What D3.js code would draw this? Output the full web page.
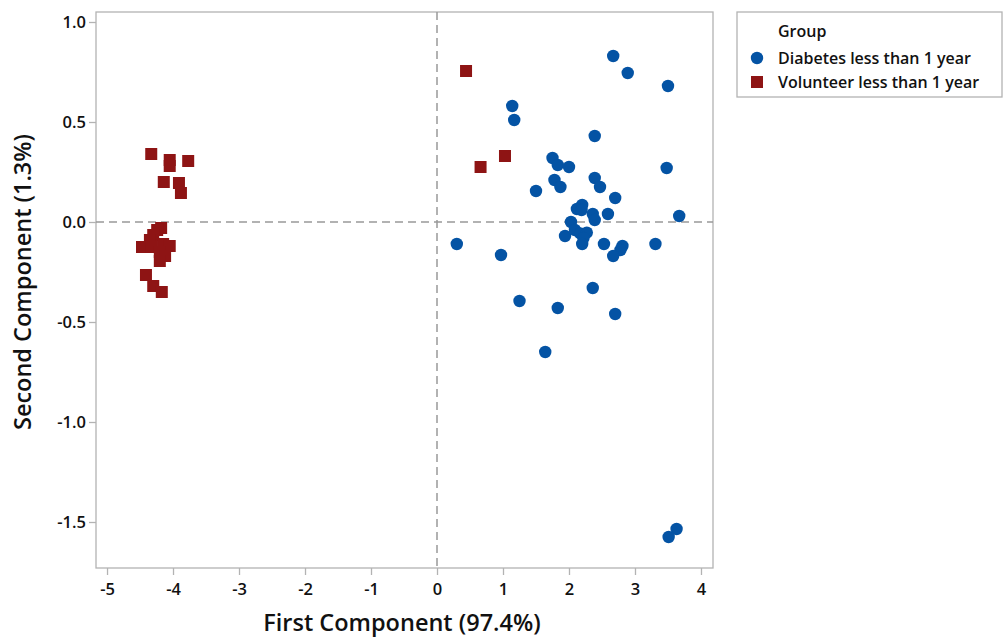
<!DOCTYPE html>
<html><head><meta charset="utf-8">
<script src="https://cdn.jsdelivr.net/npm/d3@7"></script>
<style>body{margin:0;background:#fff}svg{display:block}</style>
</head><body>
<script>
const xTicks = [-5,-4,-3,-2,-1,0,1,2,3,4];
const yTicks = [1.0,0.5,0.0,-0.5,-1.0,-1.5];
const groups = ["Diabetes less than 1 year","Volunteer less than 1 year"];
const diabetesX = [2.67,2.89,3.50,1.14,1.17,2.39,1.75,1.83,2.00,3.48,1.78,1.87,2.39,2.47,1.50,2.70,2.20,2.12,2.19,2.36,2.39,2.59,3.67,2.03,
  0.30,0.97,1.94,2.09,2.17,2.27,2.22,2.20,2.53,2.81,2.78,2.67,3.31,2.36,1.25,1.83,2.70,1.64,3.63,3.51];
const diabetesY = [0.83,0.745,0.68,0.58,0.51,0.43,0.32,0.285,0.275,0.27,0.21,0.175,0.22,0.175,0.155,0.12,0.085,0.065,0.06,0.04,0.01,0.04,0.03,0.0,
  -0.11,-0.165,-0.07,-0.04,-0.057,-0.053,-0.08,-0.11,-0.11,-0.12,-0.14,-0.17,-0.11,-0.33,-0.395,-0.43,-0.46,-0.65,-1.535,-1.575];
const volunteerX = [-4.33,-4.05,-4.05,-3.77,-4.14,-3.91,-3.88,-4.18,-4.24,-4.30,-4.35,-4.47,-4.32,-4.15,-4.05,-4.20,-4.12,-4.20,-4.41,-4.30,-4.17,0.44,0.66,1.03];
const volunteerY = [0.34,0.31,0.28,0.305,0.20,0.195,0.145,-0.03,-0.04,-0.065,-0.09,-0.125,-0.125,-0.11,-0.12,-0.15,-0.17,-0.195,-0.265,-0.32,-0.35,0.755,0.275,0.33];

const W=1003,H=639;
const L=96,R=713,T=12,B=568;
const svg=d3.select("body").append("svg").attr("width",W).attr("height",H);
const font="'Open Sans', 'Noto Sans', sans-serif";
const x=d3.scaleLinear().domain([-5.167,4.182]).range([L,R]);
const y=d3.scaleLinear().domain([-1.73,1.05]).range([B,T]);
const gray="#b3b3b3";
const hy=s=>s.replace("\u2212","-");

// frame
svg.append("rect").attr("x",L).attr("y",T).attr("width",R-L).attr("height",B-T)
  .attr("fill","none").attr("stroke",gray).attr("stroke-width",1.3);

// axes
const gx=svg.append("g").attr("transform",`translate(0,${B})`)
  .call(d3.axisBottom(x).tickValues(xTicks).tickFormat(d=>hy(d3.format("d")(d))).tickSize(7).tickSizeOuter(0));
const gy=svg.append("g").attr("transform",`translate(${L},0)`)
  .call(d3.axisLeft(y).tickValues(yTicks).tickFormat(d=>hy(d3.format(".1f")(d))).tickSize(7).tickSizeOuter(0));
[gx,gy].forEach(g=>{
  g.select(".domain").remove();
  g.selectAll(".tick line").attr("stroke",gray).attr("stroke-width",1.3);
  g.selectAll(".tick text").attr("fill","#111").attr("font-family",font).attr("font-size",16.5).attr("font-weight",600);
});
gx.selectAll(".tick text").attr("dy","1.0em");
gy.selectAll(".tick text").attr("x",-10);

// reference lines
svg.append("line").attr("x1",x(0)).attr("x2",x(0)).attr("y1",T).attr("y2",B)
  .attr("stroke","#999").attr("stroke-width",1.5).attr("stroke-dasharray","8,5");
svg.append("line").attr("x1",L).attr("x2",R).attr("y1",y(0)).attr("y2",y(0))
  .attr("stroke","#999").attr("stroke-width",1.5).attr("stroke-dasharray","8,5");

const blue="#0453a4", red="#8e1414";
const dData=diabetesX.map((v,i)=>({x:v,y:diabetesY[i]}));
const vData=volunteerX.map((v,i)=>({x:v,y:volunteerY[i]}));
svg.append("g").selectAll("circle").data(dData).join("circle")
  .attr("cx",d=>x(d.x)).attr("cy",d=>y(d.y)).attr("r",6.2).attr("fill",blue);
svg.append("g").selectAll("rect").data(vData).join("rect")
  .attr("x",d=>x(d.x)-6).attr("y",d=>y(d.y)-6).attr("width",12).attr("height",12).attr("fill",red);

// axis titles
svg.append("text").attr("x",402).attr("y",631).attr("text-anchor","middle")
  .attr("font-family",font).attr("font-size",23.5).attr("font-weight",600).attr("fill","#111")
  .text("First Component (97.4%)");
svg.append("text").attr("transform",`translate(31,282) rotate(-90)`).attr("text-anchor","middle")
  .attr("font-family",font).attr("font-size",23.5).attr("font-weight",600).attr("fill","#111")
  .text("Second Component (1.3%)");

// legend
const lg=svg.append("g");
lg.append("rect").attr("x",737).attr("y",12).attr("width",265).attr("height",85)
  .attr("fill","#fff").attr("stroke",gray).attr("stroke-width",1.3);
lg.append("text").attr("x",778).attr("y",37).attr("font-family",font).attr("font-size",16).attr("font-weight",600).attr("fill","#111").text("Group");
lg.append("circle").attr("cx",757).attr("cy",58).attr("r",6.2).attr("fill",blue);
lg.append("rect").attr("x",751).attr("y",76).attr("width",12).attr("height",12).attr("fill",red);
lg.append("text").attr("x",778).attr("y",63.5).attr("font-family",font).attr("font-size",16).attr("font-weight",600).attr("fill","#111").text(groups[0]);
lg.append("text").attr("x",778).attr("y",87.5).attr("font-family",font).attr("font-size",16).attr("font-weight",600).attr("fill","#111").text(groups[1]);
</script>
</body></html>
